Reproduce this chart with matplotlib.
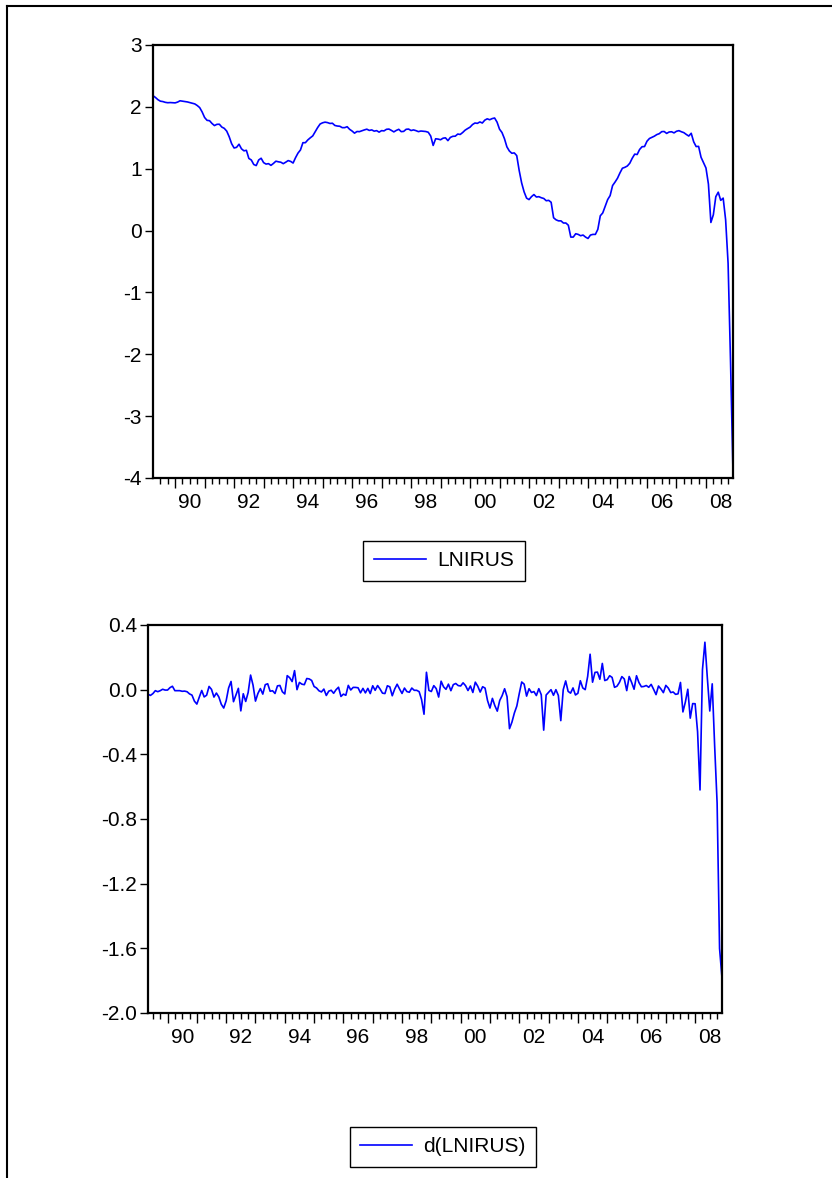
import numpy as np
import matplotlib.pyplot as plt
from matplotlib.lines import Line2D
from matplotlib.ticker import FixedLocator, FormatStrFormatter

plt.rcParams['font.family'] = ['Liberation Sans', 'DejaVu Sans']
plt.rcParams['axes.unicode_minus'] = False

# IRUS, monthly, 1989M04 - 2008M12 (in %)
irus = [
    8.85, 8.60, 8.30, 8.10, 8.05, 7.95, 7.90, 7.92, 7.90,                  # 1989 (Apr-Dec)
    7.88, 7.98, 8.15, 8.10, 8.05, 8.00, 7.92, 7.85, 7.75, 7.55, 7.30, 6.80,  # 1990
    6.22, 5.94, 5.91, 5.65, 5.46, 5.57, 5.58, 5.33, 5.22, 4.99, 4.56, 4.07,  # 1991
    3.80, 3.84, 4.04, 3.75, 3.63, 3.66, 3.21, 3.13, 2.91, 2.86, 3.13, 3.22,  # 1992
    3.00, 2.93, 2.95, 2.87, 2.96, 3.07, 3.04, 3.02, 2.95, 3.02, 3.10, 3.06,  # 1993
    2.98, 3.25, 3.50, 3.68, 4.14, 4.14, 4.33, 4.48, 4.62, 4.95, 5.29, 5.60,  # 1994
    5.71, 5.77, 5.73, 5.65, 5.67, 5.47, 5.42, 5.40, 5.28, 5.28, 5.36, 5.14,  # 1995
    5.00, 4.83, 4.96, 4.95, 5.02, 5.09, 5.15, 5.05, 5.09, 4.99, 5.03, 4.91,  # 1996
    5.03, 5.01, 5.14, 5.16, 5.05, 4.93, 5.05, 5.14, 4.95, 4.97, 5.14, 5.16,  # 1997
    5.04, 5.09, 5.03, 4.95, 5.00, 4.98, 4.96, 4.90, 4.61, 3.96, 4.41, 4.39,  # 1998
    4.34, 4.45, 4.48, 4.28, 4.51, 4.59, 4.60, 4.76, 4.73, 4.88, 5.07, 5.20,  # 1999
    5.32, 5.55, 5.69, 5.66, 5.79, 5.69, 5.96, 6.09, 6.00, 6.11, 6.17, 5.77,  # 2000
    5.15, 4.88, 4.42, 3.87, 3.62, 3.49, 3.51, 3.36, 2.64, 2.16, 1.87, 1.69,  # 2001
    1.65, 1.73, 1.79, 1.72, 1.73, 1.70, 1.68, 1.62, 1.63, 1.58, 1.23, 1.19,  # 2002
    1.17, 1.17, 1.13, 1.13, 1.09, 0.90, 0.90, 0.95, 0.94, 0.92, 0.93, 0.90,  # 2003
    0.88, 0.93, 0.94, 0.94, 1.02, 1.27, 1.33, 1.48, 1.65, 1.76, 2.07, 2.19,  # 2004
    2.33, 2.54, 2.74, 2.78, 2.84, 2.97, 3.22, 3.44, 3.42, 3.71, 3.88, 3.89,  # 2005
    4.24, 4.43, 4.51, 4.60, 4.72, 4.79, 4.95, 4.96, 4.81, 4.92, 4.94, 4.85,  # 2006
    4.98, 5.03, 4.94, 4.87, 4.73, 4.61, 4.82, 4.20, 3.89, 3.90, 3.27, 3.00,  # 2007
    2.75, 2.12, 1.14, 1.29, 1.73, 1.86, 1.63, 1.69, 1.19, 0.59, 0.119, 0.020,  # 2008
]
start_year, start_month = 1989, 4

lnirus = np.log(irus)
d_lnirus = np.diff(lnirus)
t = start_year + (start_month - 1 + np.arange(len(irus))) / 12.0

top_yticks = [-4, -3, -2, -1, 0, 1, 2, 3]
bot_yticks = [-2.0, -1.6, -1.2, -0.8, -0.4, 0.0, 0.4]
year_labels = [1990, 1992, 1994, 1996, 1998, 2000, 2002, 2004, 2006, 2008]

FS = 15
W, H = 832, 1178
fig = plt.figure(figsize=(W / 100, H / 100), dpi=100)


def px_axes(left, top, right, bottom):
    return fig.add_axes([left / W, 1 - bottom / H, (right - left) / W, (bottom - top) / H])


def style_axes(ax, x0, x1):
    for s in ax.spines.values():
        s.set_linewidth(1.6)
        s.set_color('black')
    ax.set_xlim(x0, x1)
    years = np.arange(1989, 2010)
    ax.xaxis.set_major_locator(FixedLocator(years[(years > x0) & (years < x1)]))
    q = np.arange(1989, 2009.01, 0.25)
    ax.xaxis.set_minor_locator(FixedLocator(q[(q > x0) & (q < x1)]))
    ax.set_xticklabels([])
    ax.tick_params(axis='x', which='major', direction='out', length=7, width=1, color='black')
    ax.tick_params(axis='x', which='minor', direction='out', length=4, width=1, color='black')
    ax.tick_params(axis='y', which='major', direction='out', length=6, width=1,
                   labelsize=FS, pad=2)
    sec = ax.secondary_xaxis('bottom')
    sec.set_xticks([y + 0.5 for y in year_labels], ['%02d' % (y % 100) for y in year_labels])
    sec.tick_params(length=0, labelsize=FS, pad=11)
    sec.spines['bottom'].set_visible(False)


def add_legend(ax, cx, cy):
    leg = ax.legend(loc='center', bbox_to_anchor=(cx / W, 1 - cy / H),
                    bbox_transform=fig.transFigure, fontsize=FS, frameon=True,
                    fancybox=False, framealpha=1, edgecolor='black',
                    handlelength=2.5, handletextpad=0.55, borderpad=0.5)
    leg.get_frame().set_linewidth(1.0)


# top panel: LNIRUS
ax1 = px_axes(153, 45, 733, 478)
ax1.plot(t, lnirus, color='#0000ff', lw=1.2, label='LNIRUS')
ax1.set_ylim(-4, 3)
ax1.set_yticks(top_yticks)
style_axes(ax1, t[0], t[-1])
add_legend(ax1, 444, 561)

# bottom panel: d(LNIRUS)
ax2 = px_axes(148, 625, 722, 1013)
ax2.plot(t[1:], d_lnirus, color='#0000ff', lw=1.2, label='d(LNIRUS)')
ax2.set_ylim(-2.0, 0.4)
ax2.set_yticks(bot_yticks)
ax2.yaxis.set_major_formatter(FormatStrFormatter('%.1f'))
style_axes(ax2, t[1], t[-1])
add_legend(ax2, 443, 1147)

# page frame (top and left edges)
fig.add_artist(Line2D([7 / W, 1], [1 - 6 / H, 1 - 6 / H], color='black', lw=1.5,
                      transform=fig.transFigure))
fig.add_artist(Line2D([7 / W, 7 / W], [0, 1 - 6 / H], color='black', lw=1.5,
                      transform=fig.transFigure))

fig.savefig('out.png', dpi=100)
